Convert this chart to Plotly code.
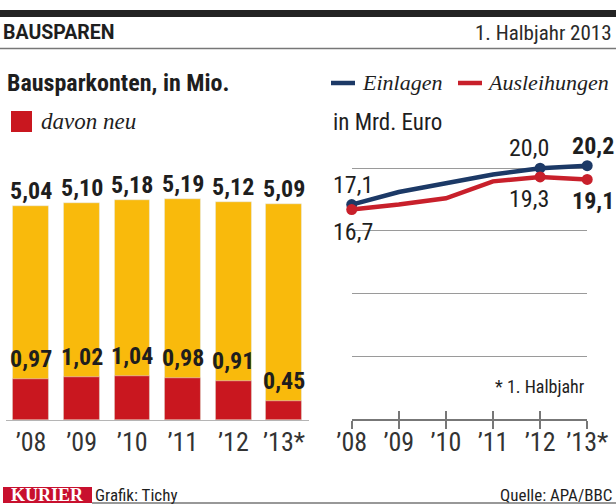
import plotly.graph_objects as go

# Daten
jahre = ["’08", "’09", "’10", "’11", "’12", "’13*"]
konten_gesamt = [5.04, 5.10, 5.18, 5.19, 5.12, 5.09]
konten_neu = [0.97, 1.02, 1.04, 0.98, 0.91, 0.45]
einlagen = [17.1, 18.1, 18.8, 19.5, 20.0, 20.2]
ausleihungen = [16.7, 17.1, 17.6, 18.95, 19.3, 19.1]
mit_wert = [0, 4, 5]  # Jahre mit Punkt + Beschriftung

W, H = 616, 504
GELB = "#F9BA0C"
ROT = "#C9171F"
BLAU = "#1C3966"
ROT_LINIE = "#C8202B"
TXT = "#1e1e1e"
COND = "Roboto Condensed, DejaVu Sans Condensed, sans-serif"
SERIF = "Liberation Serif, DejaVu Serif, serif"
SANS = "Roboto, DejaVu Sans, sans-serif"


def fx(px):
    return px / W


def fy(py):
    return 1 - py / H


def de(v, n):
    return f"{v:.{n}f}".replace(".", ",")


idx = list(range(len(jahre)))

fig = go.Figure()

# linke Grafik: Bausparkonten
fig.add_bar(x=idx, y=konten_gesamt, marker_color=GELB, width=0.71,
            xaxis="x", yaxis="y", hoverinfo="skip")
fig.add_bar(x=idx, y=konten_neu, marker_color=ROT, width=0.71,
            xaxis="x", yaxis="y", hoverinfo="skip")

# rechte Grafik: Einlagen / Ausleihungen
for werte, farbe in [(einlagen, BLAU), (ausleihungen, ROT_LINIE)]:
    fig.add_scatter(x=idx, y=werte, mode="lines", line=dict(color=farbe, width=4.5),
                    xaxis="x2", yaxis="y2", cliponaxis=False, hoverinfo="skip")
    fig.add_scatter(x=[idx[i] for i in mit_wert], y=[werte[i] for i in mit_wert],
                    mode="markers", marker=dict(color=farbe, size=11),
                    xaxis="x2", yaxis="y2", cliponaxis=False, hoverinfo="skip")
# unsichtbare Spur fuer die zweite Tick-Achse
fig.add_scatter(x=idx, y=einlagen, mode="none", xaxis="x3", yaxis="y2", hoverinfo="skip")

ann = []
for i in idx:
    ann.append(dict(x=i, y=konten_gesamt[i], xref="x", yref="y", text=f"<b>{de(konten_gesamt[i], 2)}</b>",
                    showarrow=False, yanchor="middle", yshift=15,
                    font=dict(family=COND, size=24, color=TXT)))
    ann.append(dict(x=i, y=konten_neu[i], xref="x", yref="y", text=f"<b>{de(konten_neu[i], 2)}</b>",
                    showarrow=False, yanchor="middle", yshift=20,
                    font=dict(family=COND, size=24, color=TXT)))

xshift = {0: 1, 4: -11, 5: 6}
for i in mit_wert:
    fett = i == len(jahre) - 1
    for werte, ys in [(einlagen, 20), (ausleihungen, -22)]:
        t = de(werte[i], 1)
        ann.append(dict(x=i, y=werte[i], xref="x2", yref="y2",
                        text=f"<b>{t}</b>" if fett else t,
                        showarrow=False, yanchor="middle", xshift=xshift[i], yshift=ys,
                        font=dict(family=COND, size=24, color=TXT)))


def txt(x, y, s, size, family=COND, anchor="left", color=TXT):
    ann.append(dict(x=fx(x), y=fy(y), xref="paper", yref="paper", text=s, showarrow=False,
                    xanchor=anchor, yanchor="middle", font=dict(family=family, size=size, color=color)))


txt(1, 33, "<b>BAUSPAREN</b>", 19.5, SANS)
txt(614, 33, "1. Halbjahr 2013", 21, COND, "right", "#2a2a2a")
txt(5, 83, "<b>Bausparkonten, in Mio.</b>", 24)
txt(39, 121, "<i>davon neu</i>", 23, SERIF)
txt(360, 83, "<i>Einlagen</i>", 22, SERIF)
txt(485, 83, "<i>Ausleihungen</i>", 22, SERIF)
txt(331, 122, "in Mrd. Euro", 23)
txt(587, 386, "* 1. Halbjahr", 18, COND, "right")
txt(47, 495, "<b>KURIER</b>", 18, SERIF, "center", "white")
txt(93, 495, "Grafik: Tichy", 17)
txt(614, 495, "Quelle: APA/BBC", 17, COND, "right")


def rect(x0, y0, x1, y1, color):
    return dict(type="rect", xref="paper", yref="paper", x0=fx(x0), x1=fx(x1), y0=fy(y1), y1=fy(y0),
                fillcolor=color, line=dict(width=0), layer="below")


def line(x0, y0, x1, y1, color, width):
    return dict(type="line", xref="paper", yref="paper", x0=fx(x0), x1=fx(x1), y0=fy(y0), y1=fy(y1),
                line=dict(color=color, width=width))


shapes = [
    rect(0, 10, W, 17, "#232323"),
    line(0, 48.5, W, 48.5, "#777777", 1.5),
    rect(11, 111, 32, 132, ROT),
    line(331, 83, 355, 83, BLAU, 4.5),
    line(458, 83, 482, 83, ROT_LINIE, 4.5),
    rect(3, 487, 92, 503, "#C8102E"),
    line(92, 503, W, 503, "#333333", 1.2),
]

achse_font = dict(family=COND, size=26, color="#333333")

fig.update_layout(
    width=W, height=H, margin=dict(l=0, r=0, t=0, b=0, autoexpand=False),
    paper_bgcolor="white", plot_bgcolor="rgba(0,0,0,0)",
    barmode="overlay", showlegend=False, bargap=0,
    annotations=ann, shapes=shapes,
    xaxis=dict(domain=[fx(5.7), fx(309.3)], range=[-0.5, 5.5], anchor="y", automargin=False,
               tickvals=idx, ticktext=jahre, ticks="", showline=True, linecolor="#b5b5b5",
               linewidth=1, showgrid=False, zeroline=False, tickfont=achse_font, tickangle=0,
               ticklabelstandoff=-1),
    yaxis=dict(domain=[fy(420), fy(182)], range=[0, 5.6], visible=False, anchor="x",
               automargin=False),
    xaxis2=dict(domain=[fx(351.7), fx(587.2)], range=[0, 5], anchor="y2", automargin=False,
                tickvals=idx, ticktext=jahre, ticks="outside", ticklen=8, tickwidth=1.5,
                tickcolor="#777777", showline=True, linecolor="#777777", linewidth=1.5,
                showgrid=False, zeroline=False, tickfont=achse_font, tickangle=0,
                ticklabelstandoff=-9),
    xaxis3=dict(overlaying="x2", anchor="y2", range=[0, 5], tickvals=idx, automargin=False,
                ticks="inside", ticklen=8, tickwidth=1.5, tickcolor="#777777",
                showticklabels=False, showline=False, showgrid=False, zeroline=False),
    yaxis2=dict(domain=[fy(419), fy(143.1)], range=[0, 22], anchor="x2", automargin=False,
                tickvals=[0, 5, 10, 15, 20], showticklabels=False, showgrid=True,
                gridcolor="#9a9a9a", gridwidth=1, zeroline=False, ticks=""),
)

fig.write_html("out.html", config={"displayModeBar": False},
               post_script="document.body.style.margin='0px';")
